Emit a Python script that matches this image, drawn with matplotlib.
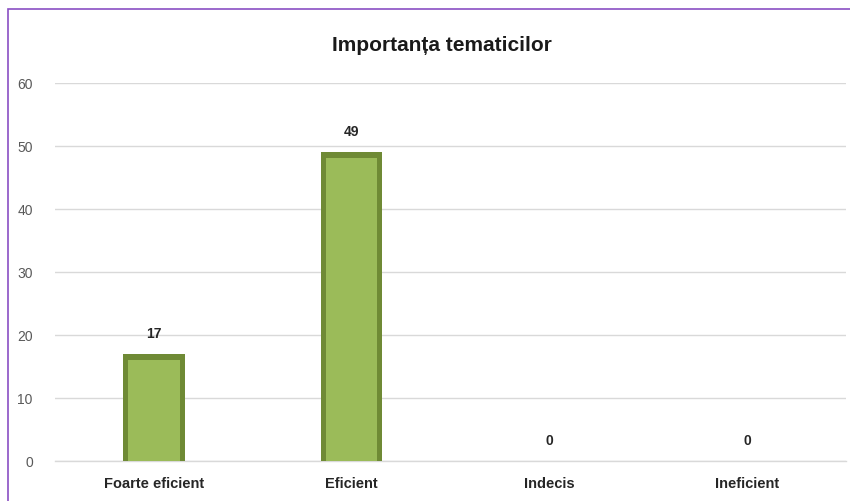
import numpy as np
import matplotlib.pyplot as plt
from matplotlib.patches import Rectangle

categories = ["Foarte eficient", "Eficient", "Indecis", "Ineficient"]
values = [17, 49, 0, 0]
yticks = [0, 10, 20, 30, 40, 50, 60]
title = "Importanța tematicilor"

plt.rcParams['font.family'] = ['Liberation Sans Narrow', 'Liberation Sans', 'DejaVu Sans']

fig = plt.figure(figsize=(8.5, 5.02), dpi=100)
ax = fig.add_axes([0.0647, 0.0797, 0.9306, 0.753])

x = np.arange(len(categories))
w = 0.31
# outer darker bar + lighter inset for bevel look
ax.bar(x, values, width=w, color='#6f8a35', linewidth=0, zorder=3)
inset = [max(v - 0.9, 0) for v in values]
ax.bar(x, inset, width=w - 0.05, color='#9bbb59', linewidth=0, zorder=4)

for xi, v in zip(x, values):
    ax.text(xi, v + 2.2, str(v), ha='center', va='bottom', fontsize=10,
            fontweight='bold', color='#262626')

ax.set_xlim(-0.5, len(categories) - 0.5)
ax.set_ylim(0, 60)
ax.set_yticks(yticks)
ax.set_xticks(x)
ax.set_xticklabels(categories, fontsize=10.5, fontweight='bold', color='#262626')
ax.tick_params(axis='y', length=0, pad=16, labelsize=10, labelcolor='#595959')
ax.tick_params(axis='x', length=0, pad=11)
ax.grid(axis='y', color='#d9d9d9', linewidth=1, zorder=0)
ax.axhline(0, color='#d9d9d9', linewidth=1, zorder=2, clip_on=False)
for s in ax.spines.values():
    s.set_visible(False)
ax.set_facecolor('white')

fig.text(0.52, 0.91, title, ha='center', va='center', fontsize=15, fontweight='bold',
         color='#1a1a1a')

# purple frame of the chart area
fig.patches.append(Rectangle((8 / 850, -0.1), 1.1, 1 - 10 / 502 + 0.1,
                             transform=fig.transFigure, fill=False,
                             edgecolor='#8a4fc4', linewidth=1.2))

fig.savefig('out.png', dpi=100)
